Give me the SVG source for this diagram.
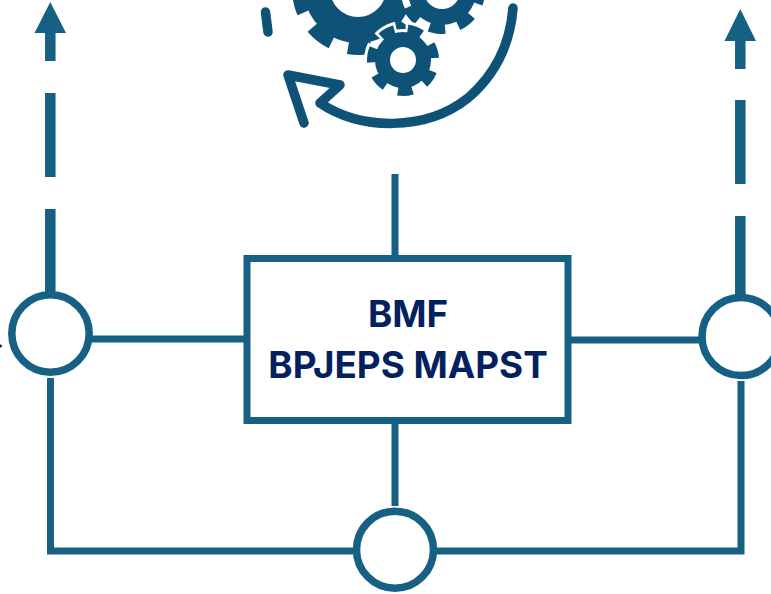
<svg xmlns="http://www.w3.org/2000/svg" width="771" height="594" viewBox="0 0 771 594">
<style>
.c{fill:none;stroke:#166083;stroke-width:7}
.v{fill:none;stroke:#166083;stroke-width:10.5}
.n{fill:#fff;stroke:#166083;stroke-width:7.5}
.h{fill:#166083}
.t{font-family:Inter,"Liberation Sans",sans-serif;font-weight:700;font-size:36.8px;fill:#03215f;text-anchor:middle}
.g{fill:none;stroke:#0f5278}
.w{fill:none;stroke:#fff}
.r{fill:none;stroke:#0f5278;stroke-width:9.5;stroke-linecap:round;stroke-linejoin:round}
</style>
<rect width="771" height="594" fill="#fff"/>
<g id="icon">
<circle class="g" cx="358" cy="-11" r="41" stroke-width="26"/>
<circle class="g" cx="358" cy="-11" r="59" stroke-width="14" stroke-dasharray="24 17.19" stroke-dashoffset="12" transform="rotate(88 358 -11)"/>
<circle cx="442" cy="-9" r="41" fill="#fff"/>
<circle class="g" cx="442" cy="-9" r="26" stroke-width="16"/>
<circle class="g" cx="442" cy="-9" r="37" stroke-width="12" stroke-dasharray="16 13.06" stroke-dashoffset="8" transform="rotate(97 442 -9)"/>
<circle cx="403" cy="60" r="31" fill="#fff"/>
<circle class="w" cx="403" cy="60" r="31" stroke-width="16" stroke-dasharray="19 8.83" stroke-dashoffset="9.500" transform="rotate(-17 403 60)"/>
<circle class="g" cx="403" cy="60" r="20.500" stroke-width="15"/>
<circle class="g" cx="403" cy="60" r="31" stroke-width="10" stroke-dasharray="14.500 13.33" stroke-dashoffset="7.250" transform="rotate(-17 403 60)"/>
<path class="r" d="M513 8C510 45 495 75 468 98C425 132 360 130 320 103L340 85L288 75L304 123"/>
<path class="r" d="M265.500 12L268 32"/>
</g>
<g id="connectors">
<path class="c" d="M90 339H247M568 340H700M395 174V258M395 420V506M50.500 378V551H741V381"/>
<path class="v" d="M50.300 30V61M50.300 93V177M50.300 209V294"/>
<path class="h" d="M50.300 2L66 33H34.500Z"/>
<path class="v" d="M740.300 38V69M740.300 100V184M740.300 216V300"/>
<path class="h" d="M740.300 9L756 41H724.500Z"/>
</g>
<g id="node-left"><circle class="n" cx="50.500" cy="333.500" r="38.700"/></g>
<g id="node-right"><circle class="n" cx="741" cy="336.500" r="39"/><path class="v" d="M740.300 292V300"/></g>
<g id="node-bottom"><circle class="n" cx="395" cy="549.700" r="38.500"/></g>
<g id="node-main">
<rect x="247" y="258.500" width="321" height="162" fill="#fff" stroke="#166083" stroke-width="7"/>
<text class="t" x="408" y="327">BMF</text>
<text class="t" x="408" y="378">BPJEPS MAPST</text>
</g>
<circle cx="0.500" cy="346" r="1.500" fill="#03215f"/>
</svg>
